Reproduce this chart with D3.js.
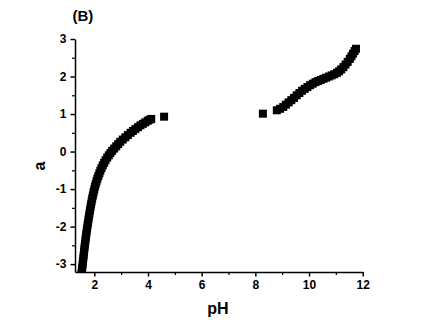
<!DOCTYPE html>
<html>
<head>
<meta charset="utf-8">
<script src="https://cdn.jsdelivr.net/npm/d3@7"></script>
<style>
  html, body { margin: 0; padding: 0; background: #fff; }
  svg { display: block; font-family: "Liberation Sans", Arial, sans-serif; }
  .axis text { font-weight: bold; font-size: 12px; fill: #000; }
  .axis path, .axis line { stroke: #000; }
</style>
</head>
<body>
<svg id="chart" width="422" height="326"></svg>
<script>
// Acidic branch: pH and a
const lowPH = [1.520, 1.534, 1.549, 1.563, 1.576, 1.589, 1.602, 1.614, 1.627, 1.640,
  1.654, 1.668, 1.683, 1.698, 1.714, 1.730, 1.747, 1.764, 1.782, 1.800,
  1.819, 1.838, 1.858, 1.878, 1.899, 1.920, 1.946, 1.971, 1.997,
  2.026, 2.054, 2.084, 2.115, 2.150, 2.188, 2.225, 2.268, 2.315, 2.365,
  2.418, 2.48, 2.54, 2.60, 2.665, 2.74, 2.815, 2.89, 2.965, 3.06,
  3.155, 3.25, 3.35, 3.44, 3.53, 3.625, 3.72, 3.81, 3.90, 3.99, 4.06, 4.12, 4.60];
const lowA = [-3.25, -3.17, -3.09, -3.01, -2.93, -2.85, -2.77, -2.69, -2.61, -2.53,
  -2.45, -2.37, -2.29, -2.21, -2.13, -2.05, -1.97, -1.89, -1.81, -1.73,
  -1.65, -1.57, -1.49, -1.41, -1.33, -1.25, -1.17, -1.09, -1.01,
  -0.93, -0.86, -0.79, -0.72, -0.65, -0.58, -0.51, -0.44, -0.37, -0.30,
  -0.23, -0.16, -0.10, -0.04, 0.02, 0.08, 0.14, 0.20, 0.26, 0.32,
  0.38, 0.44, 0.50, 0.55, 0.60, 0.65, 0.70, 0.74, 0.78, 0.82, 0.85, 0.87, 0.93];

// Alkaline branch: pH and a
const highPH = [8.28, 8.80, 8.92, 9.04, 9.14, 9.24, 9.34, 9.44, 9.54, 9.64,
  9.74, 9.84, 9.94, 10.04, 10.14, 10.24, 10.34, 10.44, 10.54, 10.64,
  10.74, 10.84, 10.94, 11.04, 11.12, 11.20, 11.28, 11.36, 11.44, 11.52,
  11.58, 11.64, 11.70, 11.75];
const highA = [1.01, 1.10, 1.14, 1.19, 1.25, 1.31, 1.37, 1.43, 1.50, 1.56,
  1.62, 1.67, 1.72, 1.77, 1.81, 1.85, 1.88, 1.91, 1.94, 1.97,
  2.00, 2.03, 2.06, 2.10, 2.14, 2.19, 2.25, 2.32, 2.39, 2.47,
  2.54, 2.61, 2.68, 2.74];

const xTicks = [2, 4, 6, 8, 10, 12];
const xMinor = [3, 5, 7, 9, 11];
const yTicks = [-3, -2, -1, 0, 1, 2, 3];
const yMinor = [-2.5, -1.5, -0.5, 0.5, 1.5, 2.5];

const svg = d3.select("#chart");
const plotLeft = 75, plotRight = 362.7, plotTop = 39, plotBottom = 272;

const x = d3.scaleLinear().domain([1.28, 12]).range([plotLeft, plotRight]);
const y = d3.scaleLinear().domain([-3.21, 3]).range([plotBottom, plotTop]);

svg.append("defs").append("clipPath").attr("id", "plot")
  .append("rect").attr("x", plotLeft).attr("y", 20)
  .attr("width", plotRight - plotLeft + 10).attr("height", plotBottom - 20);

const points = lowPH.map((p, i) => [p, lowA[i]])
  .concat(highPH.map((p, i) => [p, highA[i]]));

const size = 8;
svg.append("g").attr("clip-path", "url(#plot)")
  .selectAll("rect").data(points).join("rect")
  .attr("x", d => x(d[0]) - size / 2)
  .attr("y", d => y(d[1]) - size / 2)
  .attr("width", size).attr("height", size)
  .attr("fill", "#000");

// minor ticks
svg.append("g").attr("class", "axis").attr("transform", `translate(0,${plotBottom})`)
  .call(d3.axisBottom(x).tickValues(xMinor).tickSize(3).tickFormat(""))
  .call(g => g.select(".domain").remove())
  .selectAll("line").attr("stroke-width", 1.2);
svg.append("g").attr("class", "axis").attr("transform", `translate(${plotLeft},0)`)
  .call(d3.axisLeft(y).tickValues(yMinor).tickSize(3).tickFormat(""))
  .call(g => g.select(".domain").remove())
  .selectAll("line").attr("stroke-width", 1.2);

// major axes
const xAxis = svg.append("g").attr("class", "axis").attr("transform", `translate(0,${plotBottom})`)
  .call(d3.axisBottom(x).tickValues(xTicks).tickSize(4.5).tickSizeOuter(0).tickPadding(4));
xAxis.select(".domain").attr("stroke-width", 1.5);
xAxis.selectAll(".tick line").attr("stroke-width", 1.5);

const yAxis = svg.append("g").attr("class", "axis").attr("transform", `translate(${plotLeft},0)`)
  .call(d3.axisLeft(y).tickValues(yTicks).tickSize(4.5).tickSizeOuter(0).tickPadding(4)
    .tickFormat(d => d < 0 ? "-" + Math.abs(d) : d));
yAxis.select(".domain").attr("stroke-width", 1.5);
yAxis.selectAll(".tick line").attr("stroke-width", 1.5);

// axis titles and panel label
svg.append("text").attr("x", 218).attr("y", 314)
  .attr("text-anchor", "middle").attr("font-weight", "bold").attr("font-size", 16)
  .text("pH");
svg.append("text").attr("transform", "translate(45,166) rotate(-90)")
  .attr("text-anchor", "middle").attr("font-weight", "bold").attr("font-size", 16)
  .text("a");
svg.append("text").attr("x", 72.5).attr("y", 21)
  .attr("font-weight", "bold").attr("font-size", 15)
  .text("(B)");
</script>
</body>
</html>
